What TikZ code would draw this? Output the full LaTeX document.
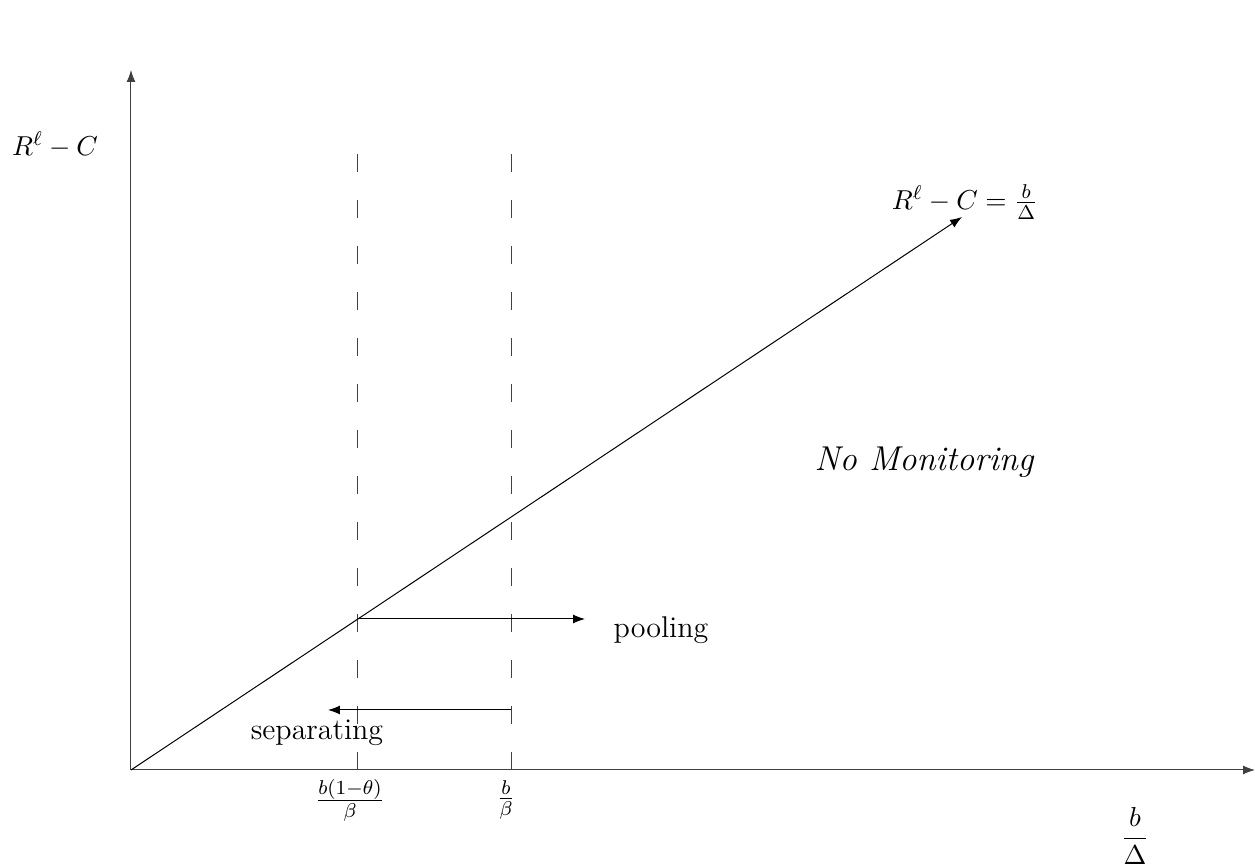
\documentclass[tikz,border=0pt]{standalone}
\usepackage{amsmath}
\usepackage{amssymb}
\usetikzlibrary{arrows.meta,positioning}

\begin{document}
\begin{tikzpicture}[x=0.4pt, y=0.4pt, >=Latex, line width=.4pt,
    axis/.style={->, black!75},
    guide/.style={black!75, dash pattern=on 7.2pt off 11.2pt},
    lbl/.style={inner sep=1pt, font=\fontsize{11}{13}\selectfont}]
    \useasboundingbox (-131,-95) rectangle (1124,770);
    % axes
    \coordinate (O) at (0,0);
    \coordinate (ytop) at (0,700);
    \coordinate (xend) at (1124,0);
    \draw[axis] (O) -- (ytop);
    \draw[axis] (O) -- (xend);
    \node[lbl] (ylab) at (-76,625) {$R^\ell - C$};
    \node[lbl] (xlab) at (1004,-66) {$\dfrac{b}{\Delta}$};
    % thresholds
    \coordinate (lowbot) at (227,0);
    \coordinate (lowtop) at (227,622);
    \coordinate (highbot) at (380,0);
    \coordinate (hightop) at (380,622);
    \draw[guide] (lowbot) -- (lowtop);
    \draw[guide] (highbot) -- (hightop);
    \node[lbl] (lowtick) at (219,-30) {$\frac{b(1-\theta)}{\beta}$};
    \node[lbl] (hightick) at (375,-30) {$\frac{b}{\beta}$};
    % the line
    \coordinate (tip) at (831,553);
    \draw[->] (O) -- (tip);
    \node[lbl] (linelab) at (834,568) {$R^\ell - C = \frac{b}{\Delta}$};
    \node[lbl, font=\fontsize{13.8}{16}\selectfont\itshape] (nomon) at (793,308) {No Monitoring};
    % regimes
    \coordinate (poolstart) at (227,151);
    \coordinate (poolend) at (454,151);
    \draw[->] (poolstart) -- (poolend);
    \node[lbl, font=\large] (pool) at (530,140) {pooling};
    \coordinate (sepstart) at (380,60);
    \coordinate (sepend) at (197,60);
    \draw[->] (sepstart) -- (sepend);
    \node[lbl, font=\large] (sep) at (186,37) {separating};
\end{tikzpicture}
\end{document}
